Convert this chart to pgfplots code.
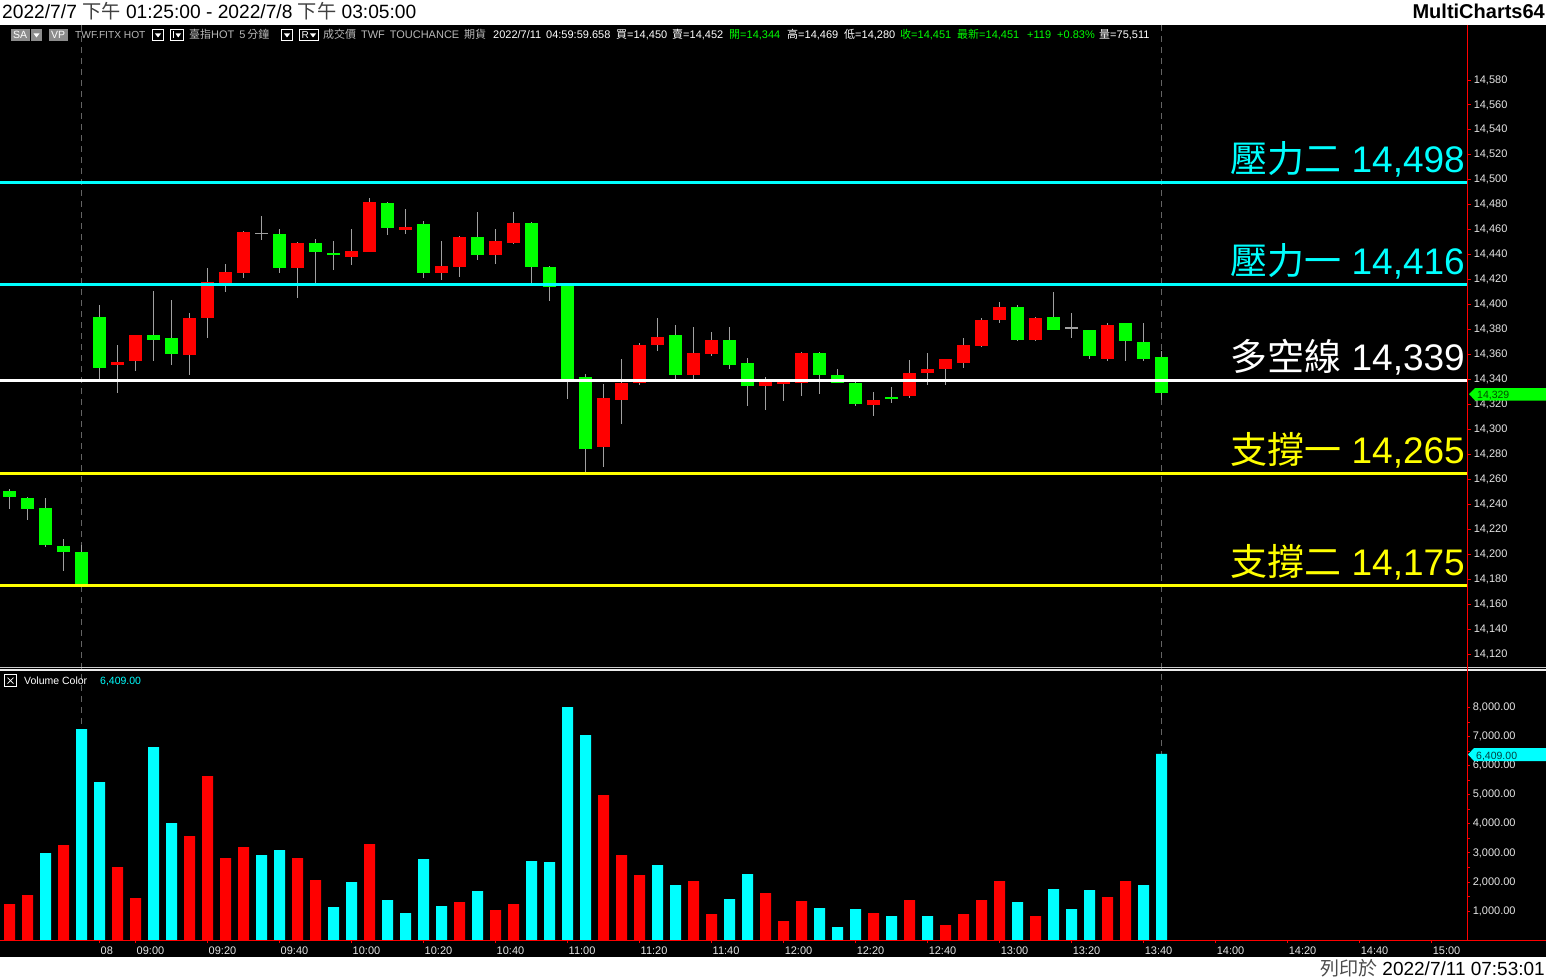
\documentclass[border=0pt]{standalone}
\usepackage{pgfplots}
\pgfplotsset{compat=1.18}
\usepackage{pgfplotstable}
\usepackage{fontspec}
\setmainfont{Liberation Sans}
\newfontfamily\cjk{Noto Sans CJK TC}
\definecolor{cgreen}{RGB}{0,255,0}
\definecolor{cred}{RGB}{255,0,0}
\definecolor{ccyan}{RGB}{0,255,255}
\definecolor{cyellow}{RGB}{255,255,0}
\definecolor{wick}{RGB}{160,160,160}
\definecolor{tickc}{RGB}{230,230,230}
\definecolor{dashc}{RGB}{100,100,100}
\definecolor{hdrgray}{RGB}{185,185,185}
\newcommand\fs[1]{\fontsize{#1}{#1}\selectfont}
\pgfplotsset{candle/.style={draw=none, mark=none, mark size=0pt, mark options={draw=none, fill=none}, forget plot,
  error bars/.cd, y dir=both, y explicit, error mark=none}}

% rising candles (red): x open high low close
\pgfplotstableread{
x o h l c
6 14352 14368 14329 14354
7 14355 14376 14347 14376
10 14360 14393 14344 14389
11 14389 14429 14373 14418
12 14417 14433 14410 14426
13 14425 14459 14421 14458
16 14429 14450 14405 14449
19 14438 14461 14432 14443
20 14442 14485 14442 14482
22 14460 14477 14457 14462
24 14425 14451 14420 14431
25 14430 14455 14422 14454
27 14440 14461 14433 14451
28 14449 14474 14449 14465
33 14286 14336 14270 14325
34 14324 14356 14304 14337
35 14337 14369 14336 14368
36 14368 14389 14363 14374
38 14344 14382 14340 14361
39 14360 14378 14359 14372
42 14335 14342 14316 14338
43 14336 14339 14323 14339
44 14337 14362 14327 14361
48 14320 14330 14311 14324
50 14327 14356 14325 14345
51 14345 14361 14336 14348
52 14348 14356 14336 14356
53 14353 14373 14349 14368
54 14367 14389 14366 14388
55 14388 14402 14385 14398
57 14372 14390 14371 14389
61 14356 14385 14355 14384
}\up
% falling candles (green)
\pgfplotstableread{
x o h l c
0 14251 14252 14236 14246
1 14245 14246 14227 14236
2 14237 14245 14206 14207
3 14207 14212 14187 14202
4 14202 14207 14175 14176
5 14390 14400 14340 14349
8 14376 14411 14355 14372
9 14373 14404 14352 14360
15 14457 14461 14425 14429
17 14449 14453 14416 14442
18 14441 14451 14428 14440
21 14481 14482 14456 14461
23 14465 14467 14421 14425
26 14454 14474 14436 14440
29 14465 14466 14417 14430
30 14430 14431 14403 14414
31 14416 14416 14324 14340
32 14342 14344 14266 14284
37 14376 14384 14340 14344
40 14372 14382 14348 14352
41 14353 14357 14319 14335
45 14361 14362 14328 14344
46 14344 14348 14337 14337
47 14337 14338 14319 14320
49 14326 14334 14321 14324
56 14398 14400 14371 14372
58 14390 14410 14380 14380
60 14380 14380 14356 14359
62 14385 14385 14355 14371
63 14370 14385 14355 14356
64 14358 14363 14324 14329
}\down
% doji
\pgfplotstableread{
x o h l c
14 14457 14471 14452 14457
59 14381 14393 14373 14381
}\doji
% volume
\pgfplotstableread{
x v
0 1240
1 1550
3 3271
6 2514
7 1446
10 3581
11 5647
12 2824
13 3202
16 2824
17 2066
20 3306
25 1309
27 1033
28 1240
33 4993
34 2927
35 2238
38 2032
39 895
42 1618
43 654
44 1343
48 930
50 1377
52 517
53 895
54 1377
55 2032
57 826
61 1481
62 2032
}\volred
\pgfplotstableread{
x v
2 2996
4 7266
5 5441
8 6646
9 4029
14 2927
15 3099
18 1136
19 1997
21 1377
22 930
23 2789
24 1171
26 1687
29 2720
30 2686
31 8023
32 7059
36 2583
37 1894
40 1412
41 2273
45 1102
46 448
47 1067
49 826
51 826
56 1309
58 1756
59 1067
60 1722
63 1894
64 6409
}\volcyan

\begin{document}
\begin{tikzpicture}
\begin{scope}[x=1pt,y=-1pt]
\fill[white] (0,0) rectangle (1546,979);
\fill[black] (0,25) rectangle (1546,957);
% session dashed lines
\draw[dashc, line width=1pt, dash pattern=on 6pt off 5pt] (81.5,25) -- (81.5,940);
\draw[dashc, line width=1pt, dash pattern=on 6pt off 5pt] (1161.5,25) -- (1161.5,940);
\end{scope}

% ---------- price panel ----------
\begin{axis}[
  at={(0pt,-25pt)}, anchor=north west,
  scale only axis, width=1467pt, height=641pt,
  xmin=-0.528, xmax=80.97, ymin=14110.4, ymax=14624.0,
  axis x line=none, axis y line*=right,
  y axis line style={draw=none},
  ytick={14120,14140,...,14580},
  minor y tick num=1,
  tick align=outside, major tick length=4pt, minor tick length=3pt,
  ytick style={draw=cred, line width=0.8pt},
  minor y tick style={draw=cred, line width=0.8pt},
  scaled y ticks=false,
  yticklabel style={text=tickc, font=\fs{11}, anchor=west, inner xsep=0pt, xshift=2.5pt,
    /pgf/number format/1000 sep={,}, /pgf/number format/assume math mode=true},
]
% wicks
\addplot[candle, error bar style={draw=wick, line width=1pt}]
  table[x=x, y expr={(\thisrow{h}+\thisrow{l})/2}, y error expr={(\thisrow{h}-\thisrow{l})/2}] {\up};
\addplot[candle, error bar style={draw=wick, line width=1pt}]
  table[x=x, y expr={(\thisrow{h}+\thisrow{l})/2}, y error expr={(\thisrow{h}-\thisrow{l})/2}] {\down};
\addplot[candle, error bar style={draw=wick, line width=1pt}]
  table[x=x, y expr={(\thisrow{h}+\thisrow{l})/2}, y error expr={(\thisrow{h}-\thisrow{l})/2}] {\doji};
% bodies
\addplot[candle, error bar style={draw=cred, line width=13pt}]
  table[x=x, y expr={(\thisrow{o}+\thisrow{c})/2}, y error expr={abs(\thisrow{c}-\thisrow{o})/2}] {\up};
\addplot[candle, error bar style={draw=cgreen, line width=13pt}]
  table[x=x, y expr={(\thisrow{o}+\thisrow{c})/2}, y error expr={abs(\thisrow{c}-\thisrow{o})/2}] {\down};
\addplot[candle, error bar style={draw=wick, line width=13pt}]
  table[x=x, y=o, y error expr={0.7}] {\doji};
% level lines
\addplot[ccyan, line width=3pt, forget plot] coordinates {(-0.6,14498) (81,14498)};
\addplot[ccyan, line width=3pt, forget plot] coordinates {(-0.6,14416) (81,14416)};
\addplot[white, line width=3pt, forget plot] coordinates {(-0.6,14339) (81,14339)};
\addplot[cyellow, line width=3pt, forget plot] coordinates {(-0.6,14265) (81,14265)};
\addplot[cyellow, line width=3pt, forget plot] coordinates {(-0.6,14175) (81,14175)};
\end{axis}

% ---------- volume panel ----------
\begin{axis}[
  at={(0pt,-940pt)}, anchor=south west,
  scale only axis, width=1467pt, height=268pt,
  xmin=-0.528, xmax=80.97, ymin=0, ymax=9229,
  axis x line*=bottom, axis y line*=right,
  x axis line style={draw=none}, y axis line style={draw=none},
  xtick={5,7,11,...,79},
  xticklabels={08,09:00,09:20,09:40,10:00,10:20,10:40,11:00,11:20,11:40,12:00,12:20,12:40,13:00,13:20,13:40,14:00,14:20,14:40,15:00},
  ytick={1000,2000,...,8000},
  minor y tick num=1,
  tick align=outside, major tick length=3pt, minor tick length=3pt,
  tick style={draw=cred, line width=0.8pt},
  minor tick style={draw=cred, line width=0.8pt},
  scaled y ticks=false,
  xticklabel style={text=tickc, font=\fs{11}, anchor=north west, inner xsep=1pt},
  yticklabel style={text=tickc, font=\fs{11}, anchor=west, inner xsep=0pt, xshift=2.5pt,
    /pgf/number format/.cd, fixed, fixed zerofill, precision=2, 1000 sep={,}, assume math mode=true},
]
\addplot[ybar, bar width=11pt, bar shift=0pt, fill=cred, draw=none] table[x=x, y=v] {\volred};
\addplot[ybar, bar width=11pt, bar shift=0pt, fill=ccyan, draw=none] table[x=x, y=v] {\volcyan};
\end{axis}

\begin{scope}[x=1pt,y=-1pt]
% panel separator and axes lines
\draw[line width=1.2pt, white!80!black] (0,667.8) -- (1546,667.8);
\draw[line width=1.5pt, white!92!black] (0,670.2) -- (1546,670.2);
\draw[cred, line width=1pt] (0,940) -- (1546,940);
\draw[cred, line width=1pt] (1467,25) -- (1467,940);
% level labels
\node[anchor=base east, inner sep=0, text=ccyan, font=\fs{37}] at (1465,172) {{\cjk 壓力二} 14,498};
\node[anchor=base east, inner sep=0, text=ccyan, font=\fs{37}] at (1465,274) {{\cjk 壓力一} 14,416};
\node[anchor=base east, inner sep=0, text=white, font=\fs{37}] at (1465,370) {{\cjk 多空線} 14,339};
\node[anchor=base east, inner sep=0, text=cyellow, font=\fs{37}] at (1465,463) {{\cjk 支撐一} 14,265};
\node[anchor=base east, inner sep=0, text=cyellow, font=\fs{37}] at (1465,575) {{\cjk 支撐二} 14,175};
% last-value markers
\fill[cgreen] (1469,394) -- (1475,388) -- (1546,388) -- (1546,400.5) -- (1475,400.5) -- cycle;
\node[anchor=base west, inner sep=0, text=black!70!green, font=\fs{10.5}] at (1477,398.5) {14,329};
\fill[ccyan] (1468,754.5) -- (1474,748) -- (1546,748) -- (1546,761) -- (1474,761) -- cycle;
\node[anchor=base west, inner sep=0, text=black!75!ccyan, font=\fs{10.5}] at (1476,759) {6,409.00};
% volume legend
\draw[white, line width=0.8pt] (4.5,674.5) rectangle (16.5,686.5);
\draw[white, line width=0.7pt] (7.5,677.5) -- (13.5,683.5) (13.5,677.5) -- (7.5,683.5);
\node[anchor=base west, inner sep=0, text=white, font=\fs{10.5}] at (24,684) {Volume Color};
\node[anchor=base west, inner sep=0, text=ccyan, font=\fs{10.5}] at (100,684) {6,409.00};
% header strip
\node[anchor=base west, inner sep=0, font=\fs{19.2}] at (2,19) {2022/7/7 {\cjk\color{black!75}下午} 01:25:00 - 2022/7/8 {\cjk\color{black!75}下午} 03:05:00};
\node[anchor=base east, inner sep=0, font=\bfseries\fs{20}] at (1545,19) {MultiCharts64};
% footer strip
\node[anchor=base east, inner sep=0, font=\fs{19}] at (1545,975) {{\cjk\color{black!70}列印於} 2022/7/11 07:53:01};
% info line
\fill[black!45] (11,29) rectangle (30,41);
\node[anchor=base west, inner sep=0, text=white, font=\fs{10.5}] at (13,39) {SA};
\fill[black!45] (31,29) rectangle (42,41);
\fill[white] (33.5,33.5) -- (39.5,33.5) -- (36.5,37.5) -- cycle;
\fill[black!45] (49,29) rectangle (68,41);
\node[anchor=base west, inner sep=0, text=white, font=\fs{10.5}] at (51,39) {VP};
\node[anchor=base west, inner sep=0, text=hdrgray, font=\fs{10.2}] at (75,39) {TWF.FITX HOT};
\draw[white, line width=0.8pt] (152.5,29.5) rectangle (163.5,40.5);
\fill[white] (155,33.5) -- (161,33.5) -- (158,37.5) -- cycle;
\draw[white, line width=0.8pt] (170.5,29.5) rectangle (183.5,40.5);
\draw[white, line width=0.8pt] (173.5,31.5) -- (173.5,38.5);
\fill[white] (175.5,33.5) -- (181,33.5) -- (178.25,37.5) -- cycle;
\node[anchor=base west, inner sep=0, text=hdrgray, font=\fs{11}] at (189,39) {{\cjk 臺指}HOT\, 5\,{\cjk 分鐘}};
\draw[white, line width=0.8pt] (281.5,29.5) rectangle (292.5,40.5);
\fill[white] (284,33.5) -- (290,33.5) -- (287,37.5) -- cycle;
\draw[white, line width=0.8pt] (299.5,29.5) rectangle (318.5,40.5);
\node[anchor=base west, inner sep=0, text=white, font=\fs{10}] at (301.5,38.5) {R};
\fill[white] (310,33.5) -- (316,33.5) -- (313,37.5) -- cycle;
\node[anchor=base west, inner sep=0, text=hdrgray, font=\fs{11}] at (323,39) {{\cjk 成交價}\, TWF\, TOUCHANCE\, {\cjk 期貨}};
\node[anchor=base west, inner sep=0, text=white, font=\fs{11}] at (493,39) {2022/7/11\, 04:59:59.658};
\node[anchor=base west, inner sep=0, text=white, font=\fs{11}] at (616,39) {{\cjk 買}=14,450};
\node[anchor=base west, inner sep=0, text=white, font=\fs{11}] at (672,39) {{\cjk 賣}=14,452};
\node[anchor=base west, inner sep=0, text=cgreen, font=\fs{11}] at (729,39) {{\cjk 開}=14,344};
\node[anchor=base west, inner sep=0, text=white, font=\fs{11}] at (787,39) {{\cjk 高}=14,469};
\node[anchor=base west, inner sep=0, text=white, font=\fs{11}] at (844,39) {{\cjk 低}=14,280};
\node[anchor=base west, inner sep=0, text=cgreen, font=\fs{11}] at (900,39) {{\cjk 收}=14,451};
\node[anchor=base west, inner sep=0, text=cgreen, font=\fs{11}] at (957,39) {{\cjk 最新}=14,451};
\node[anchor=base west, inner sep=0, text=cgreen, font=\fs{11}] at (1027,39) {+119};
\node[anchor=base west, inner sep=0, text=cgreen, font=\fs{11}] at (1057,39) {+0.83\%};
\node[anchor=base west, inner sep=0, text=white, font=\fs{11}] at (1099,39) {{\cjk 量}=75,511};
\end{scope}
\pgfresetboundingbox
\path[use as bounding box] (0pt,0pt) rectangle (1546pt,-979pt);
\end{tikzpicture}
\end{document}
